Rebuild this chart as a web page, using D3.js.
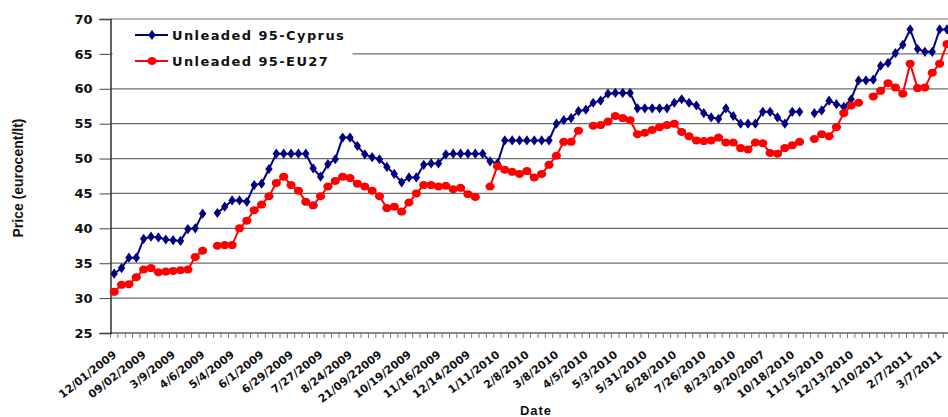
<!DOCTYPE html>
<html>
<head>
<meta charset="utf-8">
<script src="https://cdn.jsdelivr.net/npm/d3@7"></script>
<style>
  body { margin: 0; background: #fff; }
  svg { display: block; }
</style>
</head>
<body>
<svg id="chart" width="948" height="417"></svg>
<script>
// Weekly retail price of unleaded 95 petrol (eurocent per litre), Jan 2009 - Mar 2011.
// null = no quote published that week.
const cyprus = [
  33.5, 34.3, 35.8, 35.8, 38.5, 38.8, 38.7, 38.4, 38.3, 38.2,
  39.9, 40.0, 42.1, null, 42.2, 43.1, 44.0, 44.0, 43.8, 46.2,
  46.4, 48.5, 50.7, 50.7, 50.7, 50.7, 50.7, 48.6, 47.4, 49.2,
  49.9, 53.0, 53.0, 51.8, 50.6, 50.2, 49.9, 48.8, 47.8, 46.6,
  47.3, 47.3, 49.1, 49.3, 49.3, 50.6, 50.7, 50.7, 50.7, 50.7,
  50.7, 49.6, 49.3, 52.6, 52.6, 52.6, 52.6, 52.6, 52.6, 52.6,
  55.0, 55.5, 55.8, 56.8, 57.0, 58.0, 58.3, 59.3, 59.4, 59.4,
  59.4, 57.2, 57.2, 57.2, 57.2, 57.2, 58.0, 58.5, 58.0, 57.6,
  56.5, 55.9, 55.7, 57.2, 56.1, 55.0, 55.0, 55.0, 56.7, 56.7,
  55.9, 55.0, 56.7, 56.7, null, 56.5, 56.9, 58.3, 57.8, 57.4,
  58.5, 61.2, 61.2, 61.3, 63.3, 63.7, 65.1, 66.3, 68.5, 65.7,
  65.3, 65.3, 68.5, 68.5
];
const eu27 = [
  30.9, 31.9, 32.0, 33.0, 34.1, 34.3, 33.7, 33.8, 33.9, 34.0,
  34.1, 35.9, 36.8, null, 37.5, 37.6, 37.6, 40.0, 41.1, 42.6,
  43.4, 44.6, 46.5, 47.4, 46.2, 45.4, 43.8, 43.3, 44.6, 46.0,
  46.8, 47.4, 47.2, 46.4, 46.0, 45.4, 44.6, 42.9, 43.1, 42.4,
  43.7, 45.0, 46.2, 46.2, 46.0, 46.1, 45.6, 45.8, 44.9, 44.5,
  null, 46.0, 48.9, 48.4, 48.1, 47.8, 48.2, 47.3, 47.8, 49.1,
  50.4, 52.4, 52.4, 54.0, null, 54.7, 54.8, 55.3, 56.1, 55.8,
  55.5, 53.5, 53.7, 54.1, 54.5, 54.8, 55.0, 53.8, 53.2, 52.6,
  52.5, 52.6, 53.0, 52.3, 52.3, 51.5, 51.3, 52.3, 52.2, 50.8,
  50.7, 51.5, 51.9, 52.4, null, 52.8, 53.5, 53.2, 54.5, 56.5,
  57.6, 58.0, null, 58.9, 59.7, 60.8, 60.2, 59.3, 63.6, 60.1,
  60.2, 62.3, 63.6, 66.4
];
// Date labels shown on every 4th week
const tickLabels = [
  "12/01/2009", "09/02/2009", "3/9/2009", "4/6/2009", "5/4/2009", "6/1/2009",
  "6/29/2009", "7/27/2009", "8/24/2009", "21/09/22009", "10/19/2009", "11/16/2009",
  "12/14/2009", "1/11/2010", "2/8/2010", "3/8/2010", "4/5/2010", "5/3/2010",
  "5/31/2010", "6/28/2010", "7/26/2010", "8/23/2010", "9/20/2007", "10/18/2010",
  "11/15/2010", "12/13/2010", "1/10/2011", "2/7/2011", "3/7/2011"
];
const labelEvery = 4;
const yTicks = [25, 30, 35, 40, 45, 50, 55, 60, 65, 70];
const seriesNames = ["Unleaded 95-Cyprus", "Unleaded 95-EU27"];

const svg = d3.select("#chart");
const W = 948;
const plotLeft = 110.5, plotTop = 19, plotBottom = 333;
const step = 7.37;
const weeks = d3.range(cyprus.length);

const x = d3.scaleBand().domain(weeks).range([plotLeft, plotLeft + step * weeks.length]).padding(0);
const y = d3.scaleLinear().domain([25, 70]).range([plotBottom, plotTop]);
const cx = i => x(i) + x.bandwidth() / 2;

const boldFont = "'DejaVu Sans', Verdana, sans-serif";

// horizontal gridlines
svg.append("g")
  .selectAll("line")
  .data(yTicks.filter(v => v > 25))
  .join("line")
  .attr("x1", plotLeft).attr("x2", W)
  .attr("y1", d => y(d)).attr("y2", d => y(d))
  .attr("stroke", "#6e6e6e").attr("stroke-width", 1.2);

// category axis line
svg.append("line")
  .attr("x1", plotLeft).attr("x2", W)
  .attr("y1", y(25)).attr("y2", y(25))
  .attr("stroke", "#8a8a8a").attr("stroke-width", 1.8);

// weekly tick marks between categories
svg.append("g")
  .selectAll("line")
  .data(d3.range(weeks.length + 1))
  .join("line")
  .attr("x1", i => plotLeft + i * x.step()).attr("x2", i => plotLeft + i * x.step())
  .attr("y1", y(25)).attr("y2", y(25) + 5)
  .attr("stroke", "#777").attr("stroke-width", 1);

// value axis
const yAxis = svg.append("g")
  .attr("transform", `translate(${plotLeft},0)`)
  .call(d3.axisLeft(y).tickValues(yTicks).tickSize(11).tickPadding(7));
yAxis.select(".domain").attr("stroke", "#222").attr("stroke-width", 1.4);
yAxis.selectAll(".tick line").attr("stroke", "#444");
yAxis.selectAll(".tick text")
  .attr("font-family", boldFont).attr("font-weight", "bold")
  .attr("font-size", 13).attr("fill", "#111");

// rotated date labels
svg.append("g")
  .selectAll("text")
  .data(tickLabels)
  .join("text")
  .attr("transform", (d, k) => `translate(${cx(k * labelEvery) + 3},356) rotate(-38)`)
  .attr("text-anchor", "end")
  .attr("font-family", boldFont).attr("font-weight", "bold")
  .attr("font-size", 11).attr("fill", "#111")
  .text(d => d);

// axis titles
svg.append("text")
  .attr("x", 536).attr("y", 415)
  .attr("text-anchor", "middle")
  .attr("font-family", "'Liberation Sans', Arial, sans-serif").attr("font-weight", "bold")
  .attr("font-size", 13).attr("letter-spacing", 1).attr("fill", "#111")
  .text("Date");

svg.append("text")
  .attr("transform", "translate(23,178) rotate(-90)")
  .attr("text-anchor", "middle")
  .attr("font-family", "'Liberation Sans Narrow', 'Arial Narrow', 'Liberation Sans', sans-serif")
  .attr("font-weight", "bold")
  .attr("font-size", 14).attr("fill", "#111")
  .text("Price (eurocent/lt)");

// legend panel sits over the top gridlines
svg.append("rect")
  .attr("x", plotLeft + 2).attr("y", plotTop + 2)
  .attr("width", 240).attr("height", 54)
  .attr("fill", "#fff");

const blue = "#000080", red = "#ff0000";
const diamond = d3.symbol().type(d3.symbolDiamond).size(30);

const line = d3.line()
  .defined(d => d != null)
  .x((d, i) => cx(i))
  .y(d => y(d));

// Cyprus series
svg.append("path")
  .datum(cyprus)
  .attr("d", line)
  .attr("fill", "none").attr("stroke", blue).attr("stroke-width", 2);
svg.append("g")
  .selectAll("path")
  .data(cyprus.map((v, i) => ({ v, i })).filter(d => d.v != null))
  .join("path")
  .attr("d", diamond)
  .attr("transform", d => `translate(${cx(d.i)},${y(d.v)}) scale(1.25,1)`)
  .attr("fill", blue);

// EU27 series
svg.append("path")
  .datum(eu27)
  .attr("d", line)
  .attr("fill", "none").attr("stroke", red).attr("stroke-width", 2);
svg.append("g")
  .selectAll("ellipse")
  .data(eu27.map((v, i) => ({ v, i })).filter(d => d.v != null))
  .join("ellipse")
  .attr("cx", d => cx(d.i)).attr("cy", d => y(d.v))
  .attr("rx", 4.6).attr("ry", 4)
  .attr("fill", red);

// legend entries
const legend = svg.append("g");
const legendRows = [
  { name: seriesNames[0], color: blue, yy: 35, mark: "diamond" },
  { name: seriesNames[1], color: red, yy: 61, mark: "circle" }
];
legendRows.forEach(r => {
  legend.append("line")
    .attr("x1", 135).attr("x2", 168).attr("y1", r.yy).attr("y2", r.yy)
    .attr("stroke", r.color).attr("stroke-width", 2);
  if (r.mark === "diamond") {
    legend.append("path").attr("d", diamond)
      .attr("transform", `translate(152,${r.yy}) scale(1.25,1)`)
      .attr("fill", r.color);
  } else {
    legend.append("ellipse").attr("cx", 152).attr("cy", r.yy)
      .attr("rx", 4.6).attr("ry", 4).attr("fill", r.color);
  }
  legend.append("text")
    .attr("x", 172).attr("y", r.yy + 5)
    .attr("font-family", boldFont).attr("font-weight", "bold")
    .attr("font-size", 13).attr("letter-spacing", 1.4).attr("fill", "#111")
    .text(r.name);
});
</script>
</body>
</html>
